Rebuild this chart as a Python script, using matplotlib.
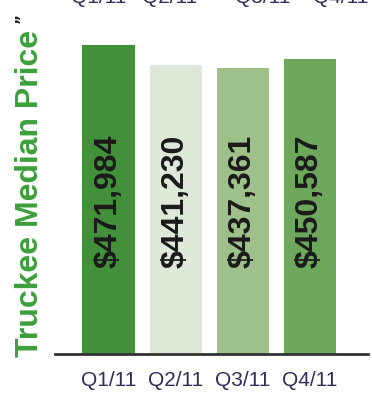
import matplotlib
matplotlib.use("Agg")
import matplotlib.pyplot as plt

quarters = ["Q1/11", "Q2/11", "Q3/11", "Q4/11"]
prices = [471984, 441230, 437361, 450587]
labels = ["$471,984", "$441,230", "$437,361", "$450,587"]
bar_colors = ["#42903a", "#dfe9da", "#9ec08a", "#6ca75c"]

W, H = 372, 398
fig = plt.figure(figsize=(W / 100, H / 100), dpi=100)
ax = fig.add_axes([55 / W, (H - 354) / H, (368 - 55) / W, 354 / H])

x = list(range(len(quarters)))
ax.bar(x, prices, width=0.78, color=bar_colors, zorder=2)
ax.set_xlim(-0.8, 3.87)
ax.set_ylim(0, 540900)

for xi, lab in zip(x, labels):
    ax.text(xi, 233800, lab, rotation=90, ha="center", va="center",
            fontsize=23, fontweight="bold", family="Liberation Sans",
            color="#1a1a1a", zorder=3)

for s in ["top", "right", "left"]:
    ax.spines[s].set_visible(False)
ax.spines["bottom"].set_linewidth(2)
ax.spines["bottom"].set_color("#333333")
ax.set_yticks([])
ax.set_xticks(x)
ax.set_xticklabels(quarters, fontsize=15, family="Liberation Sans",
                   color="#2e2e58")
ax.tick_params(axis="x", length=0, pad=12)
ax.patch.set_alpha(0)

fig.text(30 / W, 1 - 193 / H, "Truckee Median Price", rotation=90, ha="center",
         va="center", fontsize=23, fontweight="bold", family="Liberation Sans",
         color="#3ca03c")
fig.text(22 / W, 1 - 18 / H, "\u201d", rotation=90, ha="center", va="center",
         fontsize=11, fontweight="bold", color="#222222")

# cropped tick labels of the chart above
for cx, q in zip([99, 170, 263, 341], quarters):
    fig.text(cx / W, 1 - 3 / H, q, ha="center", va="baseline", fontsize=15,
             family="Liberation Sans", color="#2e2e58")

fig.savefig("out.png", dpi=100)
